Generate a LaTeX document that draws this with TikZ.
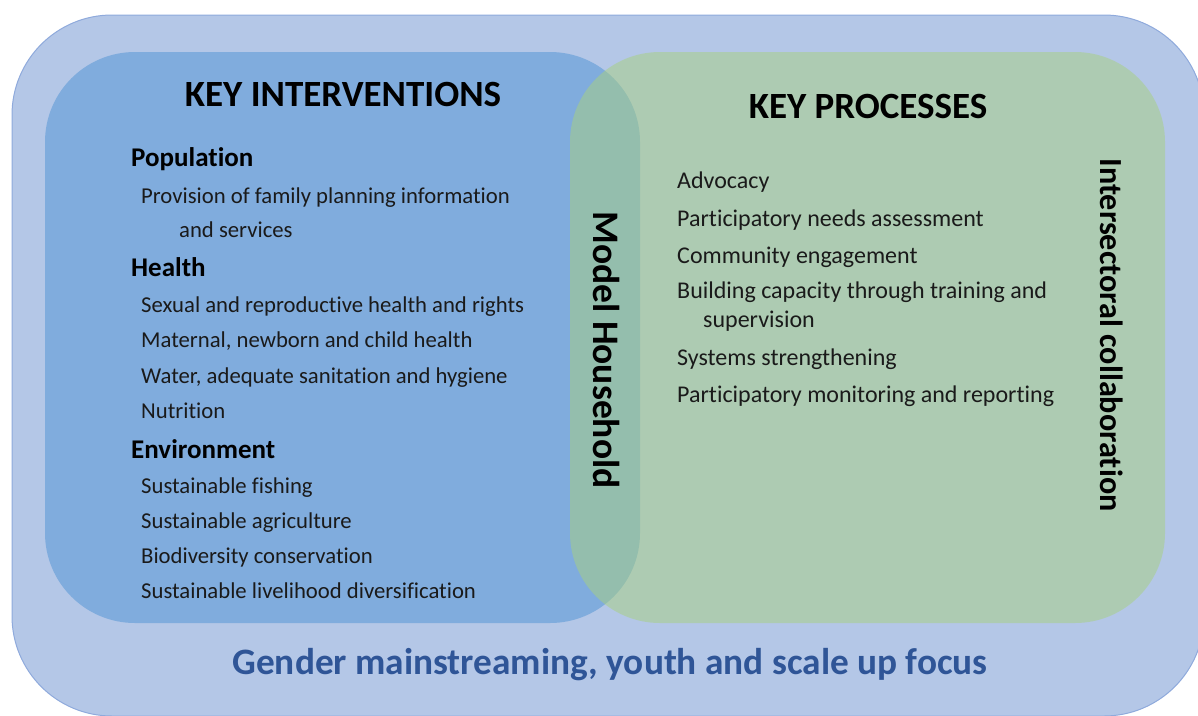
\documentclass[tikz,border=0pt]{standalone}
\usepackage{fontspec}
\setmainfont[Ligatures={NoCommon}]{Carlito}
\definecolor{outerfill}{HTML}{B4C7E7}
\definecolor{outerline}{HTML}{8FAADC}
\definecolor{bluefill}{HTML}{80ACDD}
\definecolor{greenfill}{HTML}{A8D07E}
\definecolor{textblue}{HTML}{2F5597}
\definecolor{itemtext}{HTML}{1A1A1A}
\tikzset{
  title/.style={font=\fontsize{37}{44}\selectfont\bfseries, text=black, inner sep=0pt},
  heading/.style={font=\fontsize{27}{32}\selectfont\bfseries, text=black, anchor=base west, inner sep=0pt},
  item/.style={font=\fontsize{22.7}{27}\selectfont, text=itemtext, anchor=base west, inner sep=0pt},
  pitem/.style={font=\fontsize{24}{29}\selectfont, text=itemtext, anchor=base west, inner sep=0pt},
  vlabel/.style={font=\bfseries, text=black, rotate=-90, inner sep=0pt},
  footer/.style={font=\fontsize{37.3}{44}\selectfont\bfseries, text=textblue, inner sep=0pt}
}
\begin{document}
\begin{tikzpicture}[x=1pt,y=-1pt]
\useasboundingbox (0,0) rectangle (1198,715);
\begin{scope}
\clip (0,0) rectangle (1198,715);
\draw[fill=outerfill, draw=outerline, line width=1pt, rounded corners=100pt] (12,15) rectangle (1204,716);
\fill[bluefill, rounded corners=90pt] (45,52) rectangle (640,623);
\fill[greenfill, fill opacity=0.5, rounded corners=90pt] (570,52) rectangle (1165,623);
\end{scope}
% left
\node[title, anchor=base] (ki) at (343,106) {KEY INTERVENTIONS};
\node[heading] (pop) at (131,166) {Population};
\node[item] (i1) at (141,203) {Provision of family planning information};
\node[item] (i1b) at (179,237) {and services};
\node[heading] (hea) at (131,276) {Health};
\node[item] (i2) at (141,312) {Sexual and reproductive health and rights};
\node[item] (i3) at (141,347) {Maternal, newborn and child health};
\node[item] (i4) at (141,383) {Water, adequate sanitation and hygiene};
\node[item] (i5) at (141,418) {Nutrition};
\node[heading] (env) at (131,458) {Environment};
\node[item] (i6) at (141,493) {Sustainable fishing};
\node[item] (i7) at (141,528) {Sustainable agriculture};
\node[item] (i8) at (141,563) {Biodiversity conservation};
\node[item] (i9) at (141,598) {Sustainable livelihood diversification};
% right
\node[title, anchor=base] (kp) at (868,118) {KEY PROCESSES};
\node[pitem] (p1) at (677,188) {Advocacy};
\node[pitem] (p2) at (677,226) {Participatory needs assessment};
\node[pitem] (p3) at (677,263) {Community engagement};
\node[pitem] (p4) at (677,298) {Building capacity through training and};
\node[pitem] (p4b) at (703,327) {supervision};
\node[pitem] (p5) at (677,365) {Systems strengthening};
\node[pitem] (p6) at (677,402) {Participatory monitoring and reporting};
% vertical
\node[vlabel, font=\fontsize{37.5}{44}\selectfont\bfseries] (mh) at (607,350) {Model Household};
\node[vlabel, font=\fontsize{32.2}{38}\selectfont\bfseries] (ic) at (1112,335) {Intersectoral collaboration};
% footer
\node[footer, anchor=base] (ft) at (610,674) {Gender mainstreaming, youth and scale up focus};
\end{tikzpicture}
\end{document}
